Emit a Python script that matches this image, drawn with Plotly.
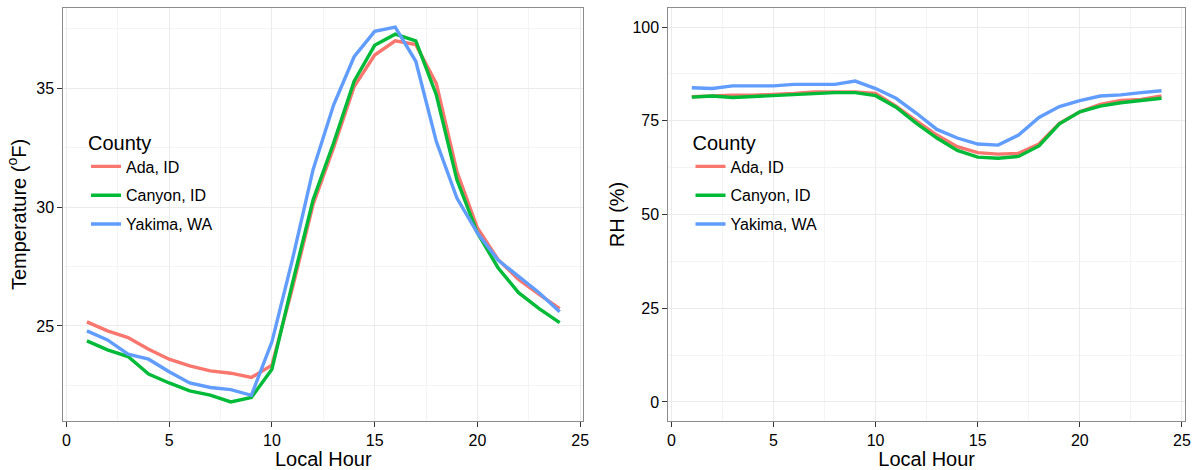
import plotly.graph_objects as go

hours = list(range(1, 25))
counties = ["Ada, ID", "Canyon, ID", "Yakima, WA"]
colors = ["#F8766D", "#00BA38", "#619CFF"]

temp_ada = [25.17, 24.79, 24.51, 24.02, 23.60, 23.32, 23.11, 23.01, 22.83, 23.35, 26.6, 30.1,
            32.5, 35.07, 36.40, 37.0, 36.84, 35.2, 31.5, 29.12, 27.8, 26.96, 26.33, 25.73]
temp_canyon = [24.37, 23.99, 23.71, 22.97, 22.6, 22.27, 22.09, 21.8, 21.99, 23.18, 26.8, 30.3,
               32.7, 35.3, 36.81, 37.28, 37.0, 34.72, 31.15, 28.91, 27.45, 26.40, 25.73, 25.14]
temp_yakima = [24.79, 24.41, 23.81, 23.60, 23.07, 22.6, 22.41, 22.32, 22.08, 24.33, 27.8, 31.57,
               34.30, 36.33, 37.40, 37.58, 36.14, 32.76, 30.38, 28.91, 27.77, 27.1, 26.40, 25.6]

rh_ada = [81.4, 81.7, 81.8, 81.8, 82.0, 82.3, 82.7, 82.7, 82.7, 82.3, 78.9, 75.0,
          71.2, 68.1, 66.5, 66.1, 66.3, 68.8, 74.3, 77.4, 79.4, 80.4, 80.7, 81.6]
rh_canyon = [81.3, 81.6, 81.2, 81.5, 81.8, 82.0, 82.4, 82.5, 82.5, 81.7, 78.6, 74.3,
             70.4, 67.1, 65.3, 65.0, 65.5, 68.3, 74.2, 77.4, 78.9, 79.8, 80.4, 81.0]
rh_yakima = [83.8, 83.6, 84.3, 84.3, 84.3, 84.7, 84.7, 84.7, 85.6, 83.6, 81.0, 77.0,
             72.7, 70.4, 68.8, 68.5, 71.2, 75.9, 78.8, 80.4, 81.6, 81.9, 82.5, 83.0]

temp_series = [temp_ada, temp_canyon, temp_yakima]
rh_series = [rh_ada, rh_canyon, rh_yakima]

W, H = 1195, 470
FONT = "Liberation Sans, Arial, Helvetica, sans-serif"

fig = go.Figure()
for name, col, t in zip(counties, colors, temp_series):
    fig.add_trace(go.Scatter(x=hours, y=t, mode="lines", name=name,
                             line=dict(color=col, width=3.4),
                             xaxis="x", yaxis="y", legend="legend",
                             legendgroup="L" + name))
for name, col, r in zip(counties, colors, rh_series):
    fig.add_trace(go.Scatter(x=hours, y=r, mode="lines", name=name,
                             line=dict(color=col, width=3.4),
                             xaxis="x2", yaxis="y2", legend="legend2",
                             legendgroup="R" + name))

allt = temp_ada + temp_canyon + temp_yakima
tmin, tmax = min(allt), max(allt)
pad = 0.05 * (tmax - tmin)
xpad = 0.05 * (max(hours) - min(hours))

ytop = 1 - 8.3 / H
ybot = 1 - 420.7 / H

common_axis = dict(
    showline=True, mirror=True, linecolor="#8C8C8C", linewidth=1,
    ticks="outside", ticklen=5, tickcolor="#333333", tickwidth=1,
    tickfont=dict(size=16, color="#000000", family=FONT),
    showgrid=True, gridcolor="#EBEBEB", gridwidth=1, zeroline=False,
    automargin=False,
)
minor_grid = dict(showgrid=True, gridcolor="#F4F4F4", gridwidth=1, tick0=0)

fig.update_layout(
    width=W, height=H,
    margin=dict(l=0, r=0, t=0, b=0),
    paper_bgcolor="white", plot_bgcolor="white",
    font=dict(family=FONT, color="#000000"),
    xaxis=dict(domain=[63.3 / W, 583.3 / W], anchor="y",
               range=[min(hours) - xpad, max(hours) + xpad],
               tick0=0, dtick=5, minor=dict(dtick=2.5, **minor_grid),
               title=dict(text="Local Hour", font=dict(size=20), standoff=6),
               **common_axis),
    yaxis=dict(domain=[ybot, ytop], anchor="x",
               range=[tmin - pad, tmax + pad],
               tick0=0, dtick=5, minor=dict(dtick=2.5, **minor_grid),
               title=dict(text="Temperature (<sup>o</sup>F)", font=dict(size=20), standoff=4),
               **common_axis),
    xaxis2=dict(domain=[668.3 / W, 1185 / W], anchor="y2",
                range=[min(hours) - xpad, max(hours) + xpad],
                tick0=0, dtick=5, minor=dict(dtick=2.5, **minor_grid),
                title=dict(text="Local Hour", font=dict(size=20), standoff=6),
                **common_axis),
    yaxis2=dict(domain=[ybot, ytop], anchor="x2",
                range=[-5, 105],
                tick0=0, dtick=25, minor=dict(dtick=12.5, **minor_grid),
                title=dict(text="RH (%)", font=dict(size=20), standoff=2),
                **common_axis),
    legend=dict(x=86 / W, y=1 - 123.5 / H, xanchor="left", yanchor="top",
                bgcolor="rgba(0,0,0,0)", font=dict(size=16),
                title=dict(text="County", font=dict(size=20)),
                tracegroupgap=5),
    legend2=dict(x=690.5 / W, y=1 - 123.5 / H, xanchor="left", yanchor="top",
                 bgcolor="rgba(0,0,0,0)", font=dict(size=16),
                 title=dict(text="County", font=dict(size=20)),
                 tracegroupgap=5),
)

fig.write_html(
    "out.html",
    config={"displayModeBar": False},
    post_script="document.body.style.margin='0';document.body.style.padding='0';",
)
